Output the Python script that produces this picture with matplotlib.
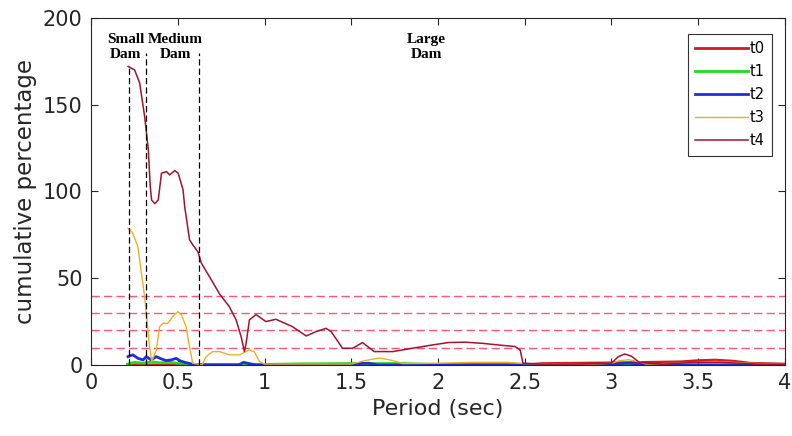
import matplotlib
matplotlib.use("Agg")
import matplotlib.pyplot as plt
from matplotlib.ticker import FormatStrFormatter

plt.rcParams['font.family'] = ['DejaVu Sans']

# series (period in sec, cumulative percentage)
t0_x = [0.21, 0.5, 1.0, 1.5, 2.0, 2.5, 2.6, 2.8, 3.0, 3.2, 3.4, 3.5, 3.6, 3.7, 3.8, 4.0]
t0_y = [0, 0, 0, 0, 0, 0, 0.8, 1, 1.2, 1.5, 1.8, 2.5, 2.8, 2.2, 1, 0.5]

t1_x = [0.21, 0.25, 0.3, 0.35, 0.4, 0.45, 0.5, 0.55, 0.6, 1.0, 1.2, 1.5, 1.8, 1.9, 2.0, 2.5, 4.0]
t1_y = [0.5, 1.5, 1, 1.8, 1.2, 1.5, 1, 0.8, 0.2, 0.3, 0.6, 0.8, 0.8, 0.5, 0.2, 0, 0]

t2_x = [0.213, 0.241, 0.27, 0.3, 0.318, 0.347, 0.376, 0.404, 0.433, 0.462, 0.491, 0.51,
        0.54, 0.58, 0.62, 0.85, 0.88, 0.9, 0.95, 1.5, 1.55, 1.6, 1.65, 3.0, 3.05, 3.1,
        3.15, 3.2, 4.0]
t2_y = [4.8, 5.8, 3.8, 2.9, 4.8, 2.9, 4.8, 3.5, 2.5, 2.9, 3.8, 2.5,
        1.5, 0.5, 0, 0, 1.5, 1.0, 0, 0, 0.8, 1.0, 0, 0, 0.8, 1.0,
        0.6, 0, 0]

t3_x = [0.213, 0.241, 0.27, 0.29, 0.309, 0.322, 0.337, 0.35, 0.376, 0.395, 0.414, 0.443,
        0.471, 0.5, 0.52, 0.548, 0.567, 0.586, 0.64, 0.663, 0.701, 0.74, 0.797, 0.855,
        0.912, 0.941, 0.97, 1.0, 1.5, 1.58, 1.66, 1.72, 1.8, 2.0, 2.2, 2.4, 2.5, 2.9,
        3.0, 3.05, 3.1, 3.15, 3.2, 3.4, 3.6, 3.8, 4.0]
t3_y = [78.8, 75.9, 68, 53, 39, 26, 10.6, 2, 8.6, 22, 24, 24,
        28, 30.7, 29, 22, 10.6, 1, 0, 4.8, 7.7, 7.7, 5.8, 5.8,
        8.6, 7.7, 2, 0.5, 0.5, 2.5, 4, 3, 0.8, 1, 1.5, 1.5, 0.8, 0.5,
        1, 2.5, 3, 2, 0.5, 1, 2, 1, 0.3]

t4_x = [0.214, 0.251, 0.28, 0.309, 0.33, 0.341, 0.349, 0.367, 0.387, 0.406, 0.435, 0.453,
        0.482, 0.502, 0.53, 0.54, 0.568, 0.588, 0.617, 0.636, 0.682, 0.74, 0.797, 0.836,
        0.865, 0.884, 0.894, 0.913, 0.951, 1.008, 1.066, 1.162, 1.24, 1.297, 1.355, 1.384,
        1.45, 1.508, 1.565, 1.632, 1.74, 1.852, 1.967, 2.06, 2.157, 2.25, 2.349, 2.445,
        2.474, 2.49, 2.6, 2.8, 3.0, 3.04, 3.077, 3.116, 3.163, 3.3, 3.5, 3.63, 3.84, 4.0]
t4_y = [172, 170, 162.5, 143, 124, 103, 95, 93, 95, 110.5, 111.4, 109.5,
        112, 110.5, 101, 91, 72, 69, 65, 58.6, 51, 41, 33.6, 26,
        16.3, 7.7, 12.5, 26, 29, 25, 26.3, 22, 16.7, 19.2, 21.1, 19.2,
        9.6, 9.6, 12.9, 7.7, 7.7, 9.6, 11.5, 12.9, 13.1, 12.5, 11.5, 10.6,
        8.6, 1, 0.5, 0.5, 1, 4.8, 6.3, 5, 1.3, 0.5, 1.5, 1.5, 0.5, 0.3]

thresholds = [10, 20, 30, 40]
dam_bounds = [0.22, 0.315, 0.625]
dam_tops = [172, 180, 180]
dam_labels = ["Small\nDam", "Medium\nDam", "Large\nDam"]
dam_label_x = [0.2, 0.485, 1.935]

fig = plt.figure(figsize=(7.92, 4.36), dpi=100)
ax = fig.add_axes([0.115, 0.163, 0.876, 0.796])

ax.plot(t0_x, t0_y, color='#d01c1c', lw=2.0, label='t0')
ax.plot(t1_x, t1_y, color='#1fdc1f', lw=2.0, label='t1')
ax.plot(t2_x, t2_y, color='#1f2fd8', lw=2.0, label='t2')
ax.plot(t3_x, t3_y, color='#EDB120', lw=1.0, label='t3')
ax.plot(t4_x, t4_y, color='#A2142F', lw=1.1, label='t4')

for th in thresholds:
    ax.axhline(th, color='#ff5577', lw=1.0, dashes=(6, 3), zorder=1)

for xb, top in zip(dam_bounds, dam_tops):
    ax.plot([xb, xb], [0, top], color='black', lw=0.9, dashes=(5, 2.5))

for lbl, xl in zip(dam_labels, dam_label_x):
    ax.text(xl, 183.5, lbl, ha='center', va='center', fontsize=11,
            fontweight='bold', family='Liberation Serif', linespacing=1.2)

ax.set_xlim(0, 4)
ax.set_ylim(0, 200)
ax.set_xticks([0, 0.5, 1, 1.5, 2, 2.5, 3, 3.5, 4])
ax.set_yticks([0, 50, 100, 150, 200])
ax.xaxis.set_major_formatter(FormatStrFormatter('%g'))
ax.tick_params(direction='in', top=True, right=True, length=5,
               labelsize=15, colors='#262626', pad=6)
for s in ax.spines.values():
    s.set_color('#262626')
    s.set_linewidth(0.8)

ax.set_xlabel("Period (sec)", fontsize=16, color='#262626', labelpad=4)
ax.set_ylabel("cumulative percentage", fontsize=16.5, color='#262626', labelpad=4)

leg = ax.legend(loc='upper right', bbox_to_anchor=(0.981, 0.954), borderaxespad=0,
                fontsize=10.5, handlelength=3.6, handletextpad=0.1, labelspacing=0.55,
                fancybox=False, framealpha=1, borderpad=0.5)
leg.get_frame().set_edgecolor('#333333')
leg.get_frame().set_linewidth(0.8)

fig.savefig("out.png", dpi=100, facecolor='white')
plt.close(fig)
